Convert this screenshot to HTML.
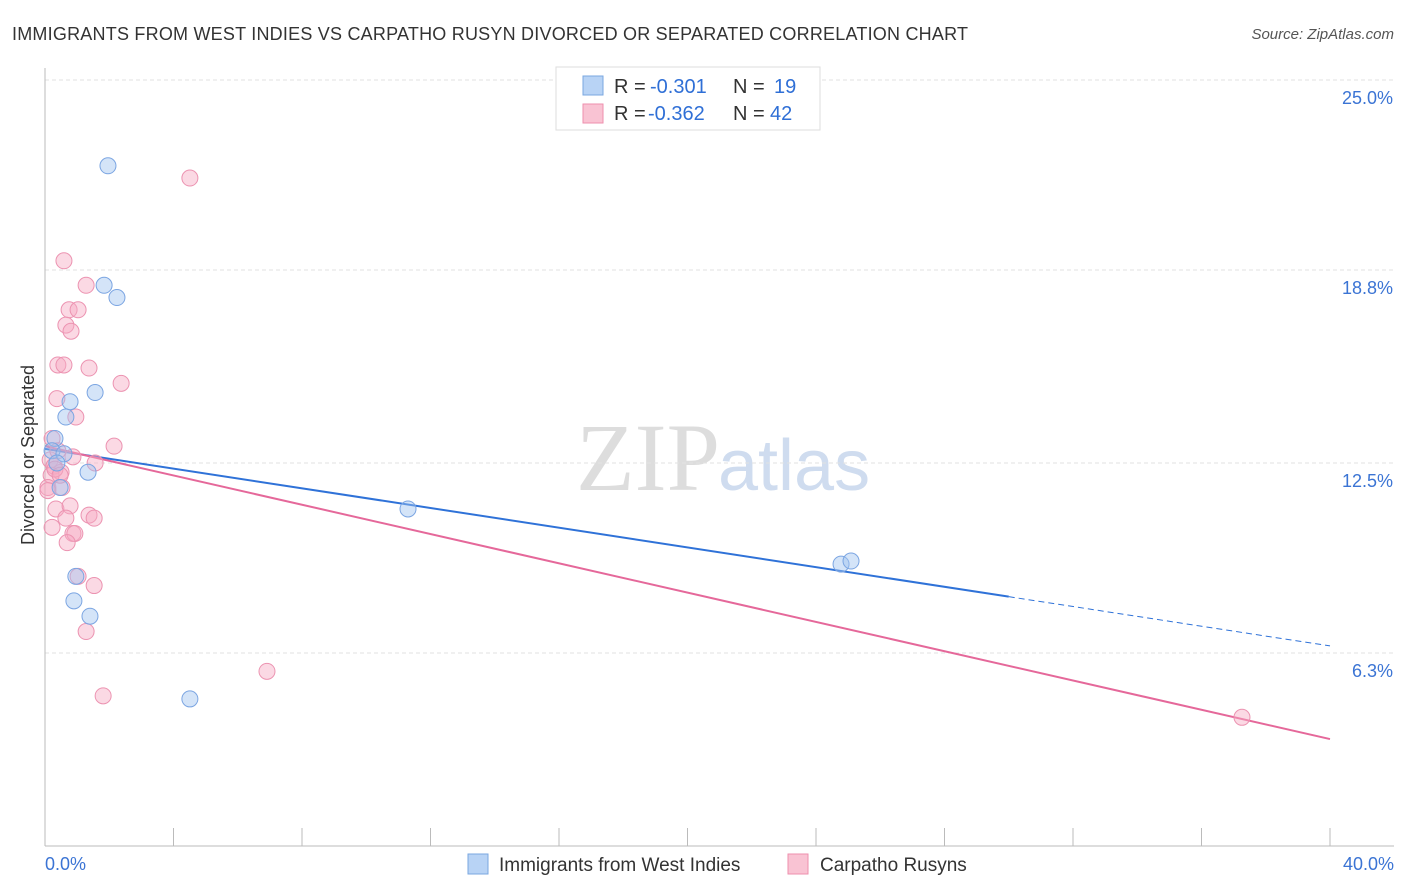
<!DOCTYPE html>
<html><head><meta charset="utf-8"><style>
body{margin:0;background:#fff;font-family:"Liberation Sans",sans-serif}
svg{display:block}
</style></head><body>
<svg id="c" width="1406" height="892" xmlns="http://www.w3.org/2000/svg">
<text x="12" y="40" font-size="18" fill="#333" textLength="956">IMMIGRANTS FROM WEST INDIES VS CARPATHO RUSYN DIVORCED OR SEPARATED CORRELATION CHART</text>
<text x="1394" y="39" font-size="15" fill="#555" font-style="italic" text-anchor="end">Source: ZipAtlas.com</text>
<text x="720" y="490" font-size="96" fill="#ddd" text-anchor="end" font-family="Liberation Serif">ZIP</text>
<text x="718" y="490" font-size="72" fill="#cfdcef">atlas</text>
<text transform="translate(34,455) rotate(-90)" font-size="18" fill="#333" text-anchor="middle">Divorced or Separated</text>
<g id="grid"></g><g id="axes"></g><g id="lines"></g><g id="pts"></g>
<g>
<rect x="556" y="67" width="264" height="63" fill="#fff" stroke="#ddd"/>
<rect x="583" y="76" width="20" height="19" fill="#b8d3f5" stroke="#7aa7e0"/>
<rect x="583" y="104" width="20" height="19" fill="#f9c3d3" stroke="#ee8fae"/>
<text x="614" y="93" font-size="20" fill="#333">R =</text>
<text x="650" y="93" font-size="20" fill="#2f6fd6">-0.301</text>
<text x="733" y="93" font-size="20" fill="#333">N =</text>
<text x="774" y="93" font-size="20" fill="#2f6fd6">19</text>
<text x="614" y="120" font-size="20" fill="#333">R =</text>
<text x="648" y="120" font-size="20" fill="#2f6fd6">-0.362</text>
<text x="733" y="120" font-size="20" fill="#333">N =</text>
<text x="770" y="120" font-size="20" fill="#2f6fd6">42</text>
</g>
<g>
<rect x="468" y="854" width="20" height="20" fill="#b8d3f5" stroke="#7aa7e0"/>
<text x="499" y="871" font-size="19" fill="#333">Immigrants from West Indies</text>
<rect x="788" y="854" width="20" height="20" fill="#f9c3d3" stroke="#ee8fae"/>
<text x="820" y="871" font-size="19" fill="#333">Carpatho Rusyns</text>
</g>
</svg>
<script>
const yTicks=[25.0,18.8,12.5,6.3];
const yTickLabels=["25.0%","18.8%","12.5%","6.3%"];
const xTicks=[0,4,8,12,16,20,24,28,32,36,40];
const blueX=[1.96,1.84,2.24,1.56,0.78,0.65,0.31,0.22,0.59,0.37,1.34,0.47,11.3,24.78,25.09,0.96,0.90,1.40,4.51];
const blueY=[22.2,18.3,17.9,14.8,14.5,14.0,13.3,12.9,12.8,12.5,12.2,11.7,11.0,9.2,9.3,8.8,8.0,7.5,4.8];
const pinkX=[4.51,0.59,1.28,0.75,1.03,0.65,0.81,0.40,0.59,1.37,2.37,0.37,0.96,2.15,0.22,0.87,0.16,1.56,0.28,0.50,0.19,0.09,0.53,0.34,0.78,1.37,0.65,1.53,0.87,0.93,0.22,0.69,1.03,1.53,1.28,6.91,1.81,37.26,0.09,0.31,0.40,0.47];
const pinkY=[21.8,19.1,18.3,17.5,17.5,17.0,16.8,15.7,15.7,15.6,15.1,14.6,14.0,13.05,13.3,12.7,12.6,12.5,12.4,12.2,12.1,11.7,11.7,11.0,11.1,10.8,10.7,10.7,10.2,10.2,10.4,9.9,8.8,8.5,7.0,5.7,4.9,4.2,11.6,12.3,12.9,12.1];
const blueFit=[12.96,6.53], pinkFit=[13.05,3.49];
const X=v=>45+v*32.125, Y=v=>846-v*30.64;
const NS="http://www.w3.org/2000/svg";
function mk(p,t,a){const e=document.createElementNS(NS,t);for(const k in a)e.setAttribute(k,a[k]);document.getElementById(p).appendChild(e);return e;}
yTicks.forEach((v,i)=>{
 let l=mk('grid','line',{x1:45,x2:1394,y1:Y(v),y2:Y(v),stroke:'#e2e2e2','stroke-dasharray':'4,3'});
 
 
 let t=mk('grid','text',{x:1393,y:Y(v)+24,'font-size':18,fill:'#3b74d4','text-anchor':'end'});
 t.textContent=yTickLabels[i];
 
 
});
let ax=mk('axes','line',{x1:45,x2:1394,y1:846,y2:846,stroke:'#bbb'});


let ay=mk('axes','line',{x1:45,x2:45,y1:68,y2:846,stroke:'#bbb'});


xTicks.forEach(v=>{let t=mk('axes','line',{x1:X(v),x2:X(v),y1:828,y2:846,stroke:'#bbb'});
 
 });
let x0=mk('axes','text',{x:45,y:870,'font-size':18,fill:'#3b74d4'});x0.textContent='0.0%';


let x1=mk('axes','text',{x:1394,y:870,'font-size':18,fill:'#3b74d4','text-anchor':'end'});x1.textContent='40.0%';


const f=(fit,x)=>fit[0]+(fit[1]-fit[0])*x/40;
let bl=mk('lines','line',{x1:X(0),y1:Y(f(blueFit,0)),x2:X(30),y2:Y(f(blueFit,30)),stroke:'#2f72d8','stroke-width':2});


let bd=mk('lines','line',{x1:X(30),y1:Y(f(blueFit,30)),x2:X(40),y2:Y(f(blueFit,40)),stroke:'#2f72d8','stroke-width':1,'stroke-dasharray':'6,4'});


let pl=mk('lines','line',{x1:X(0),y1:Y(f(pinkFit,0)),x2:X(40),y2:Y(f(pinkFit,40)),stroke:'#e5689a','stroke-width':2});


pinkX.forEach((x,i)=>{let c=mk('pts','circle',{cx:X(x),cy:Y(pinkY[i]),r:8,fill:'rgba(246,170,195,0.45)',stroke:'#ec93b1','stroke-width':1});
 
 });
blueX.forEach((x,i)=>{let c=mk('pts','circle',{cx:X(x),cy:Y(blueY[i]),r:8,fill:'rgba(160,195,240,0.45)',stroke:'#7ba5e2','stroke-width':1});
 
 });
</script>
</body></html>
